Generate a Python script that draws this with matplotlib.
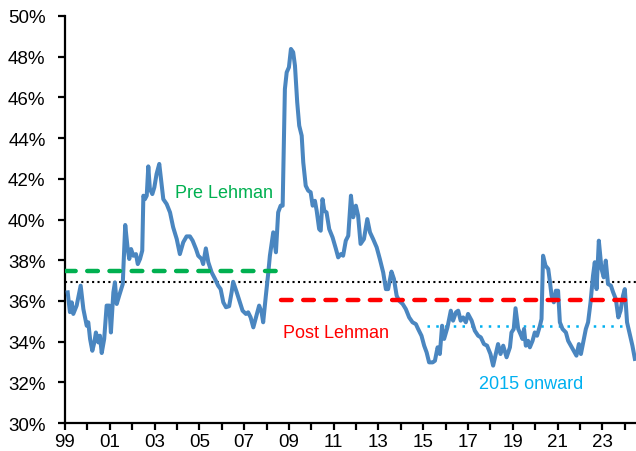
import matplotlib
matplotlib.use("Agg")
import matplotlib.pyplot as plt
import numpy as np

plt.rcParams['font.family'] = ['Liberation Sans', 'DejaVu Sans']

# years since Jan 1999 and ratio in percent
offsets = [
    0.12, 0.22, 0.30, 0.37, 0.52, 0.70, 0.82, 0.97, 1.04, 1.12, 1.22, 1.31, 1.38, 1.49,
    1.56, 1.64, 1.75, 1.86, 1.98, 2.05, 2.16, 2.23, 2.31, 2.42, 2.58, 2.60, 2.69, 2.80,
    2.87, 2.95, 3.05, 3.17, 3.25, 3.35, 3.45, 3.50, 3.57, 3.65, 3.72, 3.79, 3.90, 3.99,
    4.09, 4.21, 4.32, 4.39, 4.54, 4.69, 4.83, 4.99, 5.13, 5.28, 5.43, 5.58, 5.70, 5.85,
    5.95, 6.10, 6.17, 6.29, 6.40, 6.55, 6.70, 6.84, 6.95, 7.07, 7.19, 7.33, 7.44, 7.51,
    7.67, 7.81, 7.93, 8.08, 8.18, 8.29, 8.41, 8.53, 8.67, 8.78, 8.85, 8.97, 9.08, 9.15,
    9.30, 9.42, 9.52, 9.63, 9.72, 9.82, 9.90, 10.00, 10.09, 10.19, 10.27, 10.37, 10.46,
    10.57, 10.64, 10.75, 10.86, 10.97, 11.06, 11.16, 11.24, 11.35, 11.42, 11.50, 11.58,
    11.68, 11.80, 11.95, 12.10, 12.20, 12.32, 12.42, 12.54, 12.65, 12.77, 12.87, 12.99,
    13.09, 13.20, 13.35, 13.50, 13.62, 13.76, 13.92, 14.06, 14.21, 14.33, 14.43, 14.58,
    14.69, 14.81, 14.92, 15.08, 15.22, 15.37, 15.52, 15.67, 15.77, 15.92, 16.04, 16.15,
    16.26, 16.42, 16.52, 16.64, 16.74, 16.84, 16.93, 17.08, 17.23, 17.33, 17.46, 17.56,
    17.67, 17.78, 17.90, 18.00, 18.16, 18.30, 18.45, 18.57, 18.71, 18.85, 19.00, 19.12,
    19.24, 19.34, 19.45, 19.57, 19.72, 19.87, 19.94, 20.04, 20.12, 20.24, 20.34, 20.43,
    20.50, 20.58, 20.68, 20.76, 20.88, 20.98, 21.08, 21.21, 21.28, 21.35, 21.46, 21.58,
    21.65, 21.73, 21.83, 21.92, 22.02, 22.10, 22.22, 22.37, 22.47, 22.59, 22.72, 22.84,
    22.95, 23.04, 23.14, 23.26, 23.36, 23.47, 23.58, 23.66, 23.74, 23.84, 23.96, 24.06,
    24.15, 24.25, 24.38, 24.48, 24.60, 24.71, 24.81, 24.92, 25.00, 25.10, 25.22, 25.34,
    25.45,
]
ratio = [
    36.42, 35.45, 35.93, 35.36, 35.77, 36.75, 35.60, 34.78, 34.95, 34.13, 33.55, 33.96, 34.45, 33.96,
    34.29, 33.44, 34.13, 35.77, 35.77, 34.45, 36.42, 36.91, 35.85, 36.26, 36.83, 37.40, 39.73, 38.55,
    38.06, 38.55, 38.22, 38.30, 37.81, 38.06, 38.47, 41.17, 41.00, 41.17, 42.61, 41.50, 41.25, 41.58,
    42.24, 42.73, 41.66, 41.00, 40.76, 40.35, 39.62, 39.04, 38.30, 38.88, 39.17, 39.17, 38.96, 38.55,
    38.22, 38.06, 37.81, 38.58, 37.90, 37.40, 37.08, 36.75, 36.58, 35.93, 35.69, 35.74, 36.42, 36.94,
    36.42, 35.93, 35.52, 35.36, 35.44, 35.19, 34.70, 35.19, 35.77, 35.44, 34.95, 36.26, 37.40, 38.22,
    39.37, 38.39, 40.35, 40.68, 40.68, 46.41, 47.23, 47.48, 48.38, 48.22, 47.56, 45.76, 44.61,
    44.12, 42.81, 41.66, 41.42, 41.34, 40.68, 40.92, 40.43, 39.53, 39.45, 41.00, 40.43,
    40.35, 39.53, 39.12, 38.55, 38.14, 38.30, 38.22, 38.96, 39.20, 41.17, 40.11, 40.68,
    40.19, 38.80, 39.04, 40.02, 39.37, 39.04, 38.63, 38.06, 37.40, 36.58, 36.58, 37.44,
    37.08, 36.26, 36.01, 35.85, 35.60, 35.19, 34.95, 34.86, 34.62, 34.29, 33.80, 33.47,
    32.98, 32.98, 33.06, 33.72, 33.39, 34.78, 34.13, 34.70, 35.52, 35.03, 35.44, 35.52,
    35.03, 35.19, 34.95, 35.36, 35.03, 34.54, 34.29, 34.21, 33.88, 33.80, 33.39, 32.82,
    33.39, 33.88, 33.39, 33.80, 33.23, 33.72, 34.45, 34.62, 35.64, 34.62, 34.37, 34.13,
    34.62, 33.80, 34.04, 33.72, 34.04, 34.45, 34.29, 34.78, 35.11, 38.22, 37.73, 37.57,
    36.99, 36.26, 35.93, 36.50, 36.50, 34.95, 34.62, 34.45, 34.04, 33.80, 33.55, 33.31,
    33.88, 33.39, 33.96, 34.62, 34.95, 35.93, 37.24, 37.90, 36.58, 38.96, 37.57, 37.16,
    37.98, 36.83, 36.75, 36.42, 36.09, 35.19, 35.52, 36.26, 36.58, 34.95, 34.37, 33.80,
    33.15,
]

years = 1999 + np.array(offsets)

full_avg = 36.94
pre_lehman_avg = 37.45
post_lehman_avg = 36.03
since_2015_avg = 34.78
lehman = 2008.63
start_2015 = 2015.15
end_2015 = 2024.0

x_start, x_end = 1999, 2024.5

fig = plt.figure(figsize=(6.36, 4.52), dpi=100)
ax = fig.add_axes([0.1022, 0.0619, 0.8978, 0.9005])

ax.plot(years, ratio, color='#4A86C0', lw=2.9, solid_joinstyle='round', zorder=3)

# averages
ax.plot([x_start, x_end], [full_avg, full_avg], color='black', lw=1.5,
        dashes=(1, 1.6), zorder=2)
ax.plot([x_start, lehman], [pre_lehman_avg, pre_lehman_avg], color='#00B050', lw=3.2,
        dashes=(2.4, 2.6), dash_capstyle='round', zorder=4)
ax.plot([lehman, x_end], [post_lehman_avg, post_lehman_avg], color='#FF0000', lw=3.2,
        dashes=(2.4, 2.6), dash_capstyle='round', zorder=4)
ax.plot([start_2015, end_2015], [since_2015_avg, since_2015_avg], color='#00B0F0', lw=1.8,
        dashes=(1, 2.5), zorder=2)

ax.text(2006.12, 41.35, 'Pre Lehman', color='#00B050', fontsize=13, ha='center', va='center')
ax.text(2011.12, 34.45, 'Post Lehman', color='#FF0000', fontsize=13, ha='center', va='center')
ax.text(2019.83, 31.95, '2015 onward', color='#00B0F0', fontsize=13, ha='center', va='center')

ax.set_xlim(x_start, x_end)
ax.set_ylim(30, 50)

yt = np.arange(30, 51, 2)
ax.set_yticks(yt)
ax.set_yticklabels([f'{v}%' for v in yt])
xt = np.arange(1999, 2025)
ax.set_xticks(xt)
ax.set_xticklabels([f'{y % 100:02d}' if (y - 1999) % 2 == 0 else '' for y in xt])

for s in ['top', 'right']:
    ax.spines[s].set_visible(False)
for s in ['left', 'bottom']:
    ax.spines[s].set_linewidth(1.6)
ax.tick_params(axis='both', direction='out', length=5, width=1.6, labelsize=13.5,
               colors='black')
ax.tick_params(axis='x', pad=2)
ax.tick_params(axis='y', pad=9)

fig.savefig('out.png', dpi=100)
